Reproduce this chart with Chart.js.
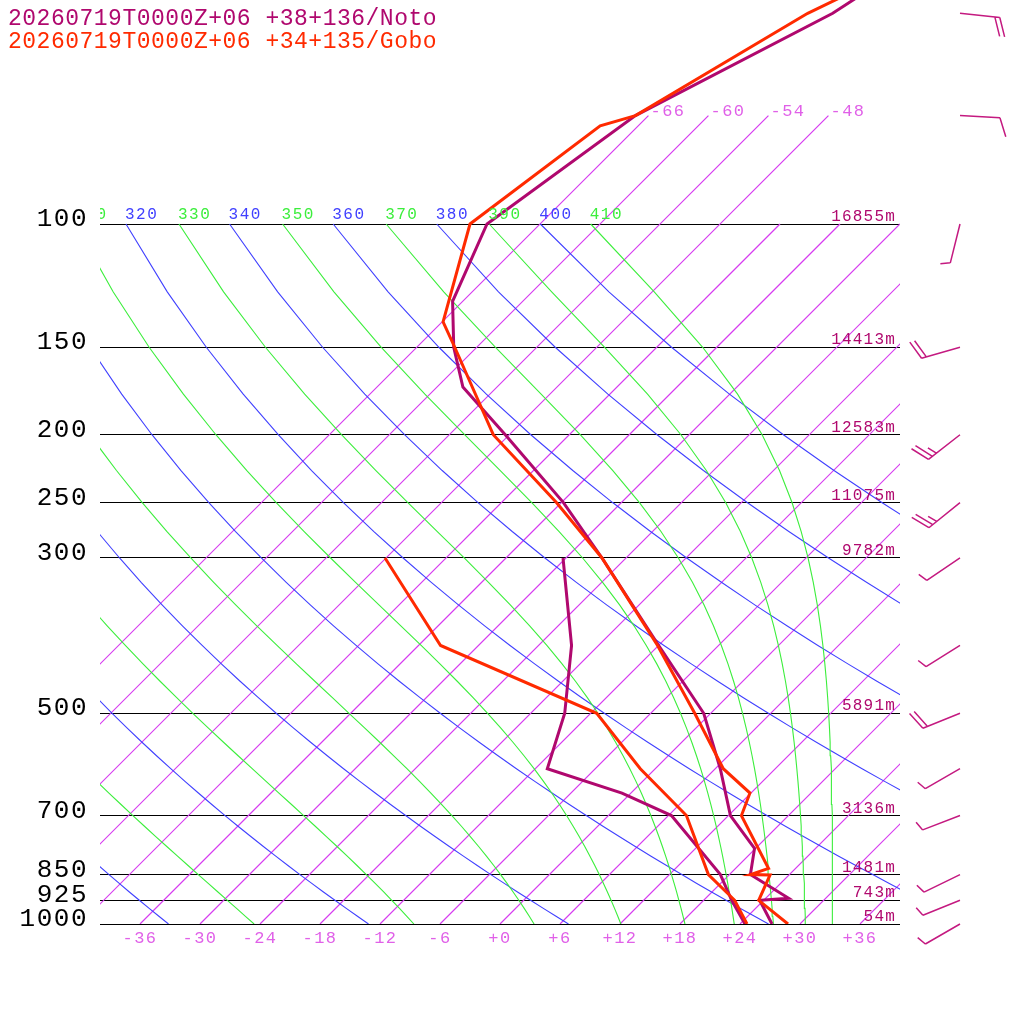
<!DOCTYPE html>
<html>
<head>
<meta charset="utf-8">
<title>Skew-T Noto / Gobo</title>
<script src="https://cdn.jsdelivr.net/npm/chart.js"></script>
<style>
  html, body { margin: 0; padding: 0; background: #fff; }
</style>
</head>
<body>
<canvas id="skewt" width="1024" height="1024"></canvas>
<script>
// ---- sounding values (hPa / degC) ----
const notoP  = [1000, 925, 919, 850, 780, 700, 600, 500, 400, 300, 250, 200, 171, 150, 129, 100, 70, 50, 30];
const notoT  = [27.2, 23.6, 26.3, 20.1, 17.9, 12.2, 6.5, -0.7, -12.0, -26.4, -35.8, -48.4, -57.4, -62.3, -67.0, -71.3, -67.3, -57.8, -49.5];
const notoDp = [1000, 925, 850, 700, 650, 600, 500, 400, 300];
const notoTd = [24.5, 20.8, 17.1, 6.3, -0.9, -10.8, -14.6, -20.7, -30.3];

const goboP  = [1000, 925, 851, 850, 833, 700, 650, 600, 500, 400, 300, 250, 200, 150, 138, 100, 72.4, 70, 50, 30];
const goboT  = [28.8, 23.5, 22.1, 20.1, 21.3, 13.3, 11.9, 6.8, -1.6, -12.1, -26.4, -36.5, -49.6, -62.2, -65.9, -73.0, -69.8, -67.3, -60.3, -43.6];
const goboDp = [1000, 925, 850, 700, 600, 500, 400, 300];
const goboTd = [24.7, 21.1, 15.9, 7.8, -1.5, -11.4, -33.8, -48.1];

// wind (Noto) : direction deg, speed kt
const windP   = [1000, 925, 850, 700, 600, 500, 400, 300, 250, 200, 150, 100, 70, 50];
const windDir = [240, 248, 244, 249, 240, 248, 238, 236, 231, 232, 254, 194, 93, 96];
const windKt  = [5, 5, 5, 5, 5, 20, 5, 5, 25, 25, 20, 5, 10, 20];

// standard levels and their heights
const levelP = [100, 150, 200, 250, 300, 500, 700, 850, 925, 1000];
const levelZ = [16855, 14413, 12583, 11075, 9782, 5891, 3136, 1481, 743, 54];

// diagram background
const tempTicks = [-36, -30, -24, -18, -12, -6, 0, 6, 12, 18, 24, 30, 36];
const isoTemps  = [-66, -60, -54, -48, -42, -36, -30, -24, -18, -12, -6, 0, 6, 12, 18, 24, 30, 36];
const isoLabels = [-66, -60, -54, -48];
const thetaVals  = [240, 260, 280, 300, 320, 340, 360, 380, 400];
const thetaEVals = [250, 270, 290, 310, 330, 350, 370, 390, 410];

const titles = ['20260719T0000Z+06 +38+136/Noto', '20260719T0000Z+06 +34+135/Gobo'];

const NOTO = 'rgb(176,8,110)';
const GOBO = 'rgb(255,42,0)';
const ISO = 'rgb(214,60,240)';
const DRY = 'rgb(64,64,255)';
const WET = 'rgb(60,238,60)';
const SKEW = 70;                 // skew of the isotherms (deg per decade of p)
const P_TOP = 1000 * Math.pow(10, -924 / 700);

function skewX(t, p) { return t + SKEW * Math.log10(1000 / p); }
function pts(ps, ts) { return ps.map((p, i) => ({ x: skewX(ts[i], p), y: p })); }

// background lines
const sampleP = [];
for (let p = 1000; p >= 100; p -= 25) sampleP.push(p);

function dryT(theta, p) { return theta * Math.pow(p / 1000, 0.2857) - 273.15; }
function thetaE(tk, p) {
  const tc = tk - 273.15;
  const es = 6.112 * Math.exp(17.67 * tc / (tc + 243.5));
  const r = 622 * es / (p - es);
  return tk * Math.pow(1000 / p, 0.2854 * (1 - 0.00028 * r)) *
         Math.exp((3.376 / tk - 0.00254) * r * (1 + 0.00081 * r));
}
function moistT(te, p) {
  let lo = 120, hi = 340;
  for (let i = 0; i < 50; i++) {
    const mid = (lo + hi) / 2;
    if (thetaE(mid, p) > te) hi = mid; else lo = mid;
  }
  return (lo + hi) / 2 - 273.15;
}

function lineSet(data, color, width, order) {
  return {
    type: 'line', data, borderColor: color, backgroundColor: color,
    borderWidth: width, pointRadius: 0, fill: false, tension: 0, order
  };
}

const datasets = [];
// profiles first (drawn on top)
datasets.push(lineSet(pts(goboP, goboT), GOBO, 3, 0));
datasets.push(lineSet(pts(goboDp, goboTd), GOBO, 3, 0));
datasets.push(lineSet(pts(notoP, notoT), NOTO, 3, 1));
datasets.push(lineSet(pts(notoDp, notoTd), NOTO, 3, 1));

thetaEVals.forEach(te => {
  datasets.push(lineSet(sampleP.map(p => ({ x: skewX(moistT(te, p), p), y: p })), WET, 1.1, 3));
});
thetaVals.forEach(th => {
  datasets.push(lineSet(sampleP.map(p => ({ x: skewX(dryT(th, p), p), y: p })), DRY, 1.1, 4));
});
isoTemps.forEach(t => {
  const top = isoLabels.includes(t) ? 70 : 100;
  datasets.push(lineSet([{ x: skewX(t, 1000), y: 1000 }, { x: skewX(t, top), y: top }], ISO, 1.2, 5));
});

function txt(ctx, s, x, y, font, color, align, spacing, base) {
  ctx.font = font;
  ctx.fillStyle = color;
  ctx.textAlign = align || 'left';
  ctx.textBaseline = base || 'alphabetic';
  ctx.letterSpacing = (spacing || 0) + 'px';
  ctx.fillText(s, x, y);
}

const textPlugin = {
  id: 'skewtText',
  afterDraw(chart) {
    const ctx = chart.ctx, xs = chart.scales.x, ys = chart.scales.y, a = chart.chartArea;
    ctx.save();
    // pressure labels and heights
    levelP.forEach((p, i) => {
      const y = ys.getPixelForValue(p);
      txt(ctx, String(p), a.left - 12, y + 2, '26px "Liberation Mono"', '#000', 'right', 1.5);
      txt(ctx, levelZ[i] + 'm', a.right - 4, y - 3, '16px "Liberation Mono"', NOTO, 'right', 1.2);
    });
    // temperature labels at 1000 hPa
    tempTicks.forEach(t => {
      const x = xs.getPixelForValue(skewX(t, 1000));
      txt(ctx, (t >= 0 ? '+' : '') + t, x, a.bottom + 14, '17px "Liberation Mono"', '#e060e8', 'center', 1.5, 'middle');
    });
    // isotherm labels at the top
    isoLabels.forEach(t => {
      const x = xs.getPixelForValue(skewX(t, 70));
      const y = ys.getPixelForValue(70);
      txt(ctx, String(t), x + 2, y, '17px "Liberation Mono"', '#e060e8', 'left', 1.5);
    });
    // theta / theta-e labels at 100 hPa, clipped to the plot
    ctx.save();
    ctx.beginPath();
    ctx.rect(a.left, 0, a.right - a.left, a.bottom);
    ctx.clip();
    const y100 = ys.getPixelForValue(100);
    thetaVals.forEach(th => {
      const x = xs.getPixelForValue(skewX(dryT(th, 100), 100));
      txt(ctx, String(th), x - 1, y100 - 5, '16px "Liberation Mono"', DRY, 'left', 1.5);
    });
    thetaEVals.forEach(te => {
      const x = xs.getPixelForValue(skewX(moistT(te, 100), 100));
      txt(ctx, String(te), x - 1, y100 - 5, '16px "Liberation Mono"', WET, 'left', 1.5);
    });
    ctx.restore();
    // titles
    txt(ctx, titles[0], 8, 25, '23px "Liberation Mono"', NOTO, 'left', 0.5);
    txt(ctx, titles[1], 8, 48, '23px "Liberation Mono"', GOBO, 'left', 0.5);
    ctx.restore();
  }
};

const barbPlugin = {
  id: 'windBarbs',
  afterDraw(chart) {
    const ctx = chart.ctx, ys = chart.scales.y, a = chart.chartArea;
    const x0 = a.right + 60;
    ctx.save();
    ctx.strokeStyle = '#c41a80';
    ctx.lineWidth = 1.5;
    windP.forEach((p, i) => {
      const y0 = ys.getPixelForValue(p);
      const d = windDir[i] * Math.PI / 180;
      const ux = Math.sin(d), uy = -Math.cos(d);
      const r = 70 * Math.PI / 180;
      const bx = ux * Math.cos(r) - uy * Math.sin(r);
      const by = ux * Math.sin(r) + uy * Math.cos(r);
      const tx = x0 + ux * 40, ty = y0 + uy * 40;
      ctx.beginPath();
      ctx.moveTo(x0, y0);
      ctx.lineTo(tx, ty);
      let spd = windKt[i], pos = 0;
      while (spd >= 10) {
        const sx = tx - ux * pos, sy = ty - uy * pos;
        ctx.moveTo(sx, sy);
        ctx.lineTo(sx + bx * 20, sy + by * 20);
        spd -= 10; pos += 5;
      }
      if (spd >= 5) {
        const sx = tx - ux * pos, sy = ty - uy * pos;
        ctx.moveTo(sx, sy);
        ctx.lineTo(sx + bx * 10, sy + by * 10);
      }
      ctx.stroke();
    });
    ctx.restore();
  }
};

new Chart(document.getElementById('skewt'), {
  type: 'scatter',
  data: { datasets },
  options: {
    responsive: false,
    animation: false,
    devicePixelRatio: 1,
    layout: { padding: { left: 0, right: 124, top: 0, bottom: 0 } },
    plugins: { legend: { display: false }, tooltip: { enabled: false } },
    scales: {
      x: {
        type: 'linear', min: -40, max: 40, bounds: 'data',
        grid: { display: false }, border: { display: false }, ticks: { display: false },
        afterFit(s) { s.height = 100; }
      },
      y: {
        type: 'logarithmic', reverse: true, min: P_TOP, max: 1000, bounds: 'data', position: 'left',
        afterBuildTicks(s) { s.ticks = levelP.map(v => ({ value: v })); },
        grid: { color: '#000', lineWidth: 1, drawTicks: false },
        border: { display: false }, ticks: { display: false },
        afterFit(s) { s.width = 100; }
      }
    }
  },
  plugins: [textPlugin, barbPlugin]
});
</script>
</body>
</html>
